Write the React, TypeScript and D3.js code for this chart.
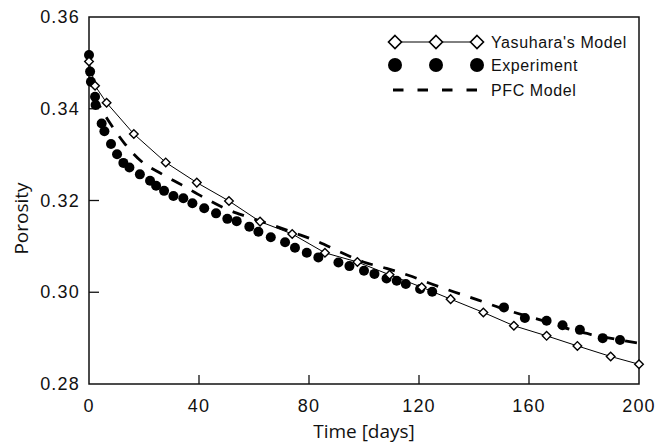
// App.tsx
import React, { useEffect, useRef } from "react";
import * as d3 from "d3";

// Yasuhara's model (diamonds joined by a thin line)
const yasuharaDays = [0, 2.2, 6.4, 16.3, 27.9, 39.2, 50.9, 62.2, 73.9, 85.8, 97.6, 109.3, 121, 131.5, 143.4, 154.5, 166.4, 177.6, 189.7, 200];
const yasuharaPorosity = [0.3503, 0.345, 0.3413, 0.3345, 0.3283, 0.3239, 0.3199, 0.3154, 0.3127, 0.3086, 0.3066, 0.3038, 0.3011, 0.2985, 0.2956, 0.2927, 0.2905, 0.2883, 0.286, 0.2843];

// Experiment (filled circles)
const expDays = [0, 0.4, 0.7, 2.2, 2.4, 4.6, 5.6, 8, 10.2, 12.5, 14.7, 18.5, 22.2, 24.4, 27.3, 30.7, 34.3, 37.6, 41.9, 46.2, 50.3, 53.7, 58.3, 61.6, 66.1, 71.3, 74.9, 79.2, 83.4, 90.7, 94.7, 100, 103.8, 108.2, 111.9, 115.2, 120.4, 124.8, 150.9, 158.5, 166.4, 172.2, 178.5, 186.8, 193.1];
const expPorosity = [0.3517, 0.3481, 0.3459, 0.3426, 0.3408, 0.3368, 0.3351, 0.3323, 0.3301, 0.3282, 0.3272, 0.3257, 0.3243, 0.3232, 0.3221, 0.321, 0.3205, 0.3194, 0.3183, 0.3172, 0.316, 0.3155, 0.3143, 0.3132, 0.312, 0.3109, 0.3097, 0.3086, 0.3076, 0.3065, 0.3057, 0.3047, 0.304, 0.303, 0.3025, 0.3018, 0.3007, 0.3001, 0.2967, 0.2944, 0.2938, 0.2928, 0.2918, 0.29, 0.2896];

// PFC model (thick dashed line)
const pfcDays = [2, 7.5, 13.1, 19.1, 26.4, 33.7, 42.2, 50.1, 57.3, 66.4, 74.9, 83.4, 91.3, 99.8, 108.2, 116.1, 124.6, 133.1, 141.6, 149.5, 158, 166.4, 175.5, 183.4, 200];
const pfcPorosity = [0.3425, 0.337, 0.3323, 0.3285, 0.3258, 0.3234, 0.3205, 0.3181, 0.3165, 0.3147, 0.3129, 0.311, 0.3088, 0.3066, 0.3052, 0.3037, 0.3018, 0.3, 0.2983, 0.2966, 0.295, 0.2936, 0.2918, 0.2907, 0.2889];

const xTicks = [0, 40, 80, 120, 160, 200];
const yTicks = [0.28, 0.3, 0.32, 0.34, 0.36];
const legendLabels = ["Yasuhara's Model", "Experiment", "PFC Model"];

const tickFont = "'Liberation Sans', Arial, sans-serif";
const titleFont = "'Open Sans', 'Noto Sans', sans-serif";

const Chart = () => {
  const ref = useRef<SVGSVGElement>(null);

  useEffect(() => {
    const svg = d3.select(ref.current);
    svg.selectAll("*").remove();

    const left = 89, right = 639, top = 17, bottom = 384;
    const x = d3.scaleLinear().domain([0, 200]).range([left, right]);
    const y = d3.scaleLinear().domain([0.28, 0.36]).range([bottom, top]);

    const diamond = (cx: number, cy: number, r: number) =>
      `M${cx},${cy - r}L${cx + r},${cy}L${cx},${cy + r}L${cx - r},${cy}Z`;

    // frame
    svg.append("rect")
      .attr("x", left).attr("y", top)
      .attr("width", right - left).attr("height", bottom - top)
      .attr("fill", "none").attr("stroke", "#111").attr("stroke-width", 1.5);

    // inward ticks
    svg.selectAll(".xtick").data(xTicks.slice(1, -1)).enter().append("line")
      .attr("x1", d => x(d)).attr("x2", d => x(d))
      .attr("y1", bottom).attr("y2", bottom - 9)
      .attr("stroke", "#111").attr("stroke-width", 1.3);
    svg.selectAll(".ytick").data(yTicks.slice(1, -1)).enter().append("line")
      .attr("x1", left).attr("x2", left + 10)
      .attr("y1", d => y(d)).attr("y2", d => y(d))
      .attr("stroke", "#111").attr("stroke-width", 1.3);

    // tick labels
    svg.selectAll(".xlab").data(xTicks).enter().append("text")
      .attr("x", d => x(d)).attr("y", bottom + 28)
      .attr("text-anchor", "middle")
      .attr("font-family", tickFont).attr("font-size", 18)
      .attr("letter-spacing", 1.2).attr("fill", "#111")
      .text(d => d);
    svg.selectAll(".ylab").data(yTicks).enter().append("text")
      .attr("x", left - 9).attr("y", d => y(d) + 6)
      .attr("text-anchor", "end")
      .attr("font-family", tickFont).attr("font-size", 18)
      .attr("letter-spacing", 1.2).attr("fill", "#111")
      .text(d => d3.format(".2f")(d));

    // axis titles
    svg.append("text")
      .attr("x", (left + right) / 2).attr("y", 438)
      .attr("text-anchor", "middle")
      .attr("font-family", titleFont).attr("font-size", 19).attr("fill", "#111")
      .text("Time [days]");
    svg.append("text")
      .attr("transform", `translate(28, ${(top + bottom) / 2 + 18}) rotate(-90)`)
      .attr("text-anchor", "middle")
      .attr("font-family", titleFont).attr("font-size", 19).attr("fill", "#111")
      .text("Porosity");

    // PFC model
    const pfc = pfcDays.map((d, i) => [d, pfcPorosity[i]] as [number, number]);
    svg.append("path")
      .datum(pfc)
      .attr("d", d3.line<[number, number]>().x(d => x(d[0])).y(d => y(d[1])).curve(d3.curveMonotoneX))
      .attr("fill", "none").attr("stroke", "#000").attr("stroke-width", 2.8)
      .attr("stroke-dasharray", "12,11");

    // Yasuhara's model
    const yas = yasuharaDays.map((d, i) => [d, yasuharaPorosity[i]] as [number, number]);
    svg.append("path")
      .datum(yas)
      .attr("d", d3.line<[number, number]>().x(d => x(d[0])).y(d => y(d[1])))
      .attr("fill", "none").attr("stroke", "#000").attr("stroke-width", 1);

    // experiment
    const exp = expDays.map((d, i) => [d, expPorosity[i]] as [number, number]);
    svg.selectAll(".exp").data(exp).enter().append("circle")
      .attr("cx", d => x(d[0])).attr("cy", d => y(d[1]))
      .attr("r", 5).attr("fill", "#000");

    svg.selectAll(".yas").data(yas).enter().append("path")
      .attr("d", d => diamond(x(d[0]), y(d[1]), 4.3))
      .attr("fill", "#fff").attr("stroke", "#000").attr("stroke-width", 1.4);

    // legend
    const lg = svg.append("g");
    const lx = [395, 436, 477];
    const rowY = [42, 65, 90];
    lg.append("line").attr("x1", lx[0]).attr("x2", lx[2])
      .attr("y1", rowY[0]).attr("y2", rowY[0])
      .attr("stroke", "#000").attr("stroke-width", 1);
    lx.forEach(cx => {
      lg.append("path").attr("d", diamond(cx, rowY[0], 6.5))
        .attr("fill", "#fff").attr("stroke", "#000").attr("stroke-width", 1.6);
      lg.append("circle").attr("cx", cx).attr("cy", rowY[1]).attr("r", 7).attr("fill", "#000");
    });
    lg.append("line").attr("x1", 393).attr("x2", 477)
      .attr("y1", rowY[2]).attr("y2", rowY[2])
      .attr("stroke", "#000").attr("stroke-width", 2.8)
      .attr("stroke-dasharray", "10.5,14");
    lg.selectAll("text").data(legendLabels).enter().append("text")
      .attr("x", 491).attr("y", (_, i) => rowY[i] + 6)
      .attr("font-family", tickFont).attr("font-size", 16)
      .attr("letter-spacing", 0.6).attr("fill", "#111")
      .text(d => d);
  }, []);

  return (
    <svg ref={ref} width={665} height={445}
      style={{ position: "absolute", left: 0, top: 0, background: "#fff" }} />
  );
};

export default function App() {
  return <Chart />;
}
